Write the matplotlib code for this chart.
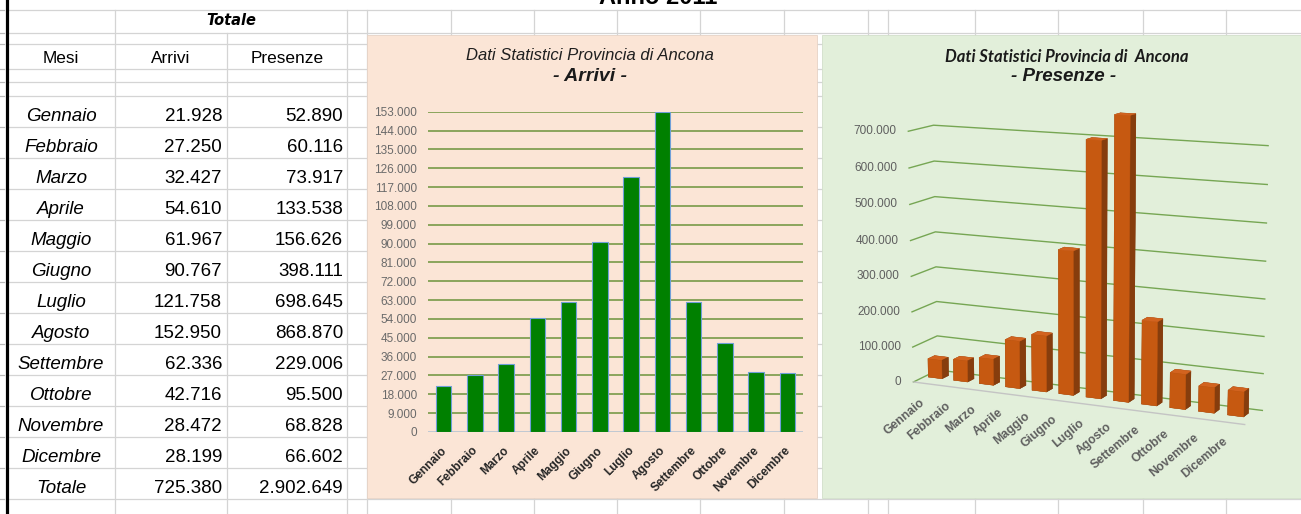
import numpy as np
import matplotlib
matplotlib.use("Agg")
import matplotlib.pyplot as plt
import matplotlib.transforms as mtransforms
from matplotlib.patches import Rectangle
from matplotlib.ticker import FuncFormatter
from mpl_toolkits.mplot3d import Axes3D  # noqa: F401

# ---- data -------------------------------------------------------------
mesi = ["Gennaio", "Febbraio", "Marzo", "Aprile", "Maggio", "Giugno",
        "Luglio", "Agosto", "Settembre", "Ottobre", "Novembre", "Dicembre"]
arrivi = [21928, 27250, 32427, 54610, 61967, 90767,
          121758, 152950, 62336, 42716, 28472, 28199]
presenze = [52890, 60116, 73917, 133538, 156626, 398111,
            698645, 868870, 229006, 95500, 68828, 66602]
totale_arrivi = 725380
totale_presenze = 2902649
# series plotted in the 3D "Presenze" chart
presenze_grafico = [52890, 60116, 73917, 133538, 156626, 398111,
                    698645, 768000, 229006, 95500, 68828, 66602]
arrivi_ticks = list(range(0, 153001, 9000))
presenze_ticks = list(range(0, 700001, 100000))


def it_num(v):
    return f"{int(v):,}".replace(",", ".")


plt.rcParams["font.family"] = ["Liberation Sans", "DejaVu Sans"]

W, H = 1301, 514
fig = plt.figure(figsize=(W / 100, H / 100), dpi=100)
fig.patch.set_facecolor("white")


def px_off(dx, dy):
    return mtransforms.ScaledTranslation(dx / 100, dy / 100, fig.dpi_scale_trans)


# ---- spreadsheet layer (pixel coordinates, y down) --------------------
sheet = fig.add_axes([0, 0, 1, 1])
sheet.set_xlim(0, W)
sheet.set_ylim(H, 0)
sheet.axis("off")
sheet.set_zorder(0)

GRID = "#d4d4d4"
row_lines = [10, 33, 44, 69, 82] + [96 + 31 * k for k in range(14)]
for y in row_lines:
    sheet.plot([8, W], [y, y], color=GRID, lw=0.9, zorder=1)
    sheet.plot([0, 4], [y, y], color="#b8b8b8", lw=0.9, zorder=1)
col_lines = [115, 227, 347, 367, 451, 534, 617, 700, 784, 868, 888,
             975, 1058, 1143, 1226]
for x in col_lines:
    y0 = 33 if x == 227 else 10
    sheet.plot([x, x], [y0, H], color=GRID, lw=0.9, zorder=1)
sheet.plot([6.5, 6.5], [0, H], color="black", lw=2.3, zorder=5)

# chart areas
sheet.add_patch(Rectangle((367, 35), 817 - 367, 498 - 35, facecolor="#fbe5d6",
                          edgecolor="#e6d3c6", lw=0.6, zorder=2))
sheet.add_patch(Rectangle((822, 35), W - 822 + 5, 498 - 35, facecolor="#e2efda",
                          edgecolor="#d2dfca", lw=0.6, zorder=2))

# sheet title (top row)
sheet.text(658, 4, "Anno 2011", fontsize=17, fontweight="bold",
           ha="center", va="baseline", zorder=4)

# table
sheet.text(231, 25, "Totale", family="DejaVu Sans", fontweight="bold",
           style="italic", fontsize=10.5, ha="center", va="baseline", zorder=4)
for x, s in [(61, "Mesi"), (171, "Arrivi"), (287, "Presenze")]:
    sheet.text(x, 63, s, fontsize=12.4, ha="center", va="baseline", zorder=4)
righe = zip(mesi + ["Totale"], arrivi + [totale_arrivi],
            presenze + [totale_presenze])
for k, (m, a, p) in enumerate(righe):
    yb = 121 + 31 * k
    sheet.text(61, yb, m, style="italic", fontsize=13.5, ha="center",
               va="baseline", zorder=4)
    sheet.text(222, yb, it_num(a), fontsize=13.5, ha="right",
               va="baseline", zorder=4)
    sheet.text(343, yb, it_num(p), fontsize=13.5, ha="right",
               va="baseline", zorder=4)

# chart titles
sheet.text(590, 60, "Dati Statistici Provincia di Ancona", style="italic",
           fontsize=12, color="#1f1f1f", ha="center", va="baseline", zorder=4)
sheet.text(590, 81, "- Arrivi -", style="italic", fontweight="bold",
           fontsize=14, color="#1a1a1a", ha="center", va="baseline", zorder=4)
sheet.text(1067, 61.5, "Dati Statistici Provincia di  Ancona", family="Lato",
           style="italic", fontweight="bold", fontsize=12, color="#1a1a1a",
           ha="center", va="baseline", zorder=4)
sheet.text(1064, 81, "- Presenze -", style="italic", fontweight="bold",
           fontsize=13.5, color="#1a1a1a", ha="center", va="baseline", zorder=4)

# ---- Arrivi: 2D column chart -----------------------------------------
ax1 = fig.add_axes([428 / W, 1 - 432 / H, (803 - 428) / W, (432 - 111.7) / H])
ax1.set_zorder(2)
ax1.set_facecolor("none")
xpos = np.arange(len(mesi))
ax1.bar(xpos, arrivi, width=0.5, color="#008000", edgecolor="#6f9fd8",
        linewidth=0.8, zorder=3)
ax1.set_xlim(-0.5, 11.5)
ax1.set_ylim(0, 153000)
ax1.set_yticks(arrivi_ticks)
ax1.yaxis.set_major_formatter(FuncFormatter(lambda v, p: it_num(v)))
ax1.set_axisbelow(True)
ax1.grid(axis="y", color="#789a48", lw=1.2)
ax1.axhline(0, color="#c3cad6", lw=1.4, zorder=2)
for s in ax1.spines.values():
    s.set_visible(False)
ax1.tick_params(axis="y", length=0, pad=8, labelsize=8.5, labelcolor="#6a6a6a")
ax1.tick_params(axis="x", length=0, pad=9)
ax1.set_xticks(xpos)
ax1.set_xticklabels(mesi, rotation=45, ha="right", rotation_mode="anchor",
                    fontsize=8.6, fontweight="bold", color="#262626")
for lab in ax1.get_xticklabels():
    lab.set_transform(lab.get_transform() + px_off(-3, 0))

# ---- Presenze: 3D column chart ---------------------------------------
S = 440.0
cx, cy = 1083.0, H - 269.0
frac = 0.095 / 0.185
ax2 = fig.add_axes([(cx - frac * S) / W, (cy - frac * S) / H, S / W, S / H],
                   projection="3d", computed_zorder=False)
ax2.set_zorder(2)
ax2.patch.set_visible(False)
ax2.set_facecolor((0, 0, 0, 0))

X0, X1 = -0.42, 11.58
bw, y0, bd = 0.54, 0.45, 0.27
FRONT, SIDE, TOP = "#c65911", "#863d0d", "#d2631f"
face_cols = []
for _ in mesi:
    face_cols += [SIDE, TOP, FRONT, SIDE, SIDE, SIDE]

for v in presenze_ticks:
    ax2.plot([X0, X0, X1], [0, 1, 1], [v, v, v], color="#76a653", lw=1.0,
             zorder=1)
ax2.plot([X0, X1], [0, 0], [0, 0], color="#c4c4c4", lw=1.0, zorder=2)
ax2.bar3d(xpos - bw / 2, np.full(len(mesi), y0), np.zeros(len(mesi)),
          bw, bd, presenze_grafico, color=face_cols, shade=False,
          edgecolor=face_cols, linewidth=0.3, zorder=3)

ax2.set_xlim(X0, X1)
ax2.set_ylim(0, 1)
ax2.set_zlim(0, 700000)
ax2.set_box_aspect((1.54, 0.22, 1.11), zoom=1.0)
ax2.view_init(elev=12, azim=-65.5)
ax2.set_proj_type("persp", focal_length=0.75)
ax2.set_axis_off()

M = ax2.get_proj()


def proj(x, y, z):
    v = M @ np.array([x, y, z, 1.0])
    return v[0] / v[3], v[1] / v[3]


for v in presenze_ticks:
    px, py = proj(X0, 0, v)
    ax2.text2D(px, py, it_num(v), transform=ax2.transData + px_off(-12, 0),
               ha="right", va="center", fontsize=8.5, color="#5f5f5f",
               clip_on=False)
for i, m in enumerate(mesi):
    px, py = proj(i, 0, 0)
    ax2.text2D(px, py, m, transform=ax2.transData + px_off(-5, -13),
               ha="right", va="top", rotation=40, rotation_mode="anchor",
               fontsize=8.8, fontweight="bold", color="#5f5f5f", clip_on=False)

fig.savefig("out.png", dpi=100)
